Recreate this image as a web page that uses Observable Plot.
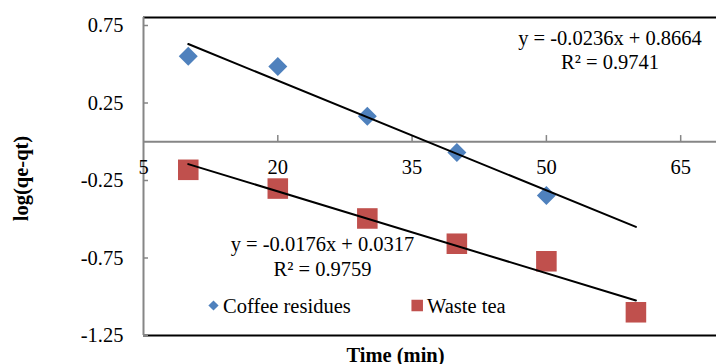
<!DOCTYPE html>
<html><head><meta charset="utf-8">
<script src="https://cdn.jsdelivr.net/npm/d3@7"></script>
<script src="https://cdn.jsdelivr.net/npm/@observablehq/plot@0.6"></script>
<style>body{margin:0;background:#fff} svg text{font-family:"Liberation Serif","Times New Roman",serif !important}</style>
</head><body><div id="chart"></div>
<script>
const times = [10, 20, 30, 40, 50, 60];
const coffeeValues = [0.552, 0.485, 0.165, -0.069, -0.347];
const wasteTeaValues = [-0.181, -0.302, -0.495, -0.658, -0.771, -1.100];
const seriesNames = ["Coffee residues", "Waste tea"];
const trendSlopes = [-0.0236, -0.0176];
const trendIntercepts = [0.8664, 0.0317];
const trendRange = [10, 60];
const equationLines = [["y = -0.0236x + 0.8664", "R² = 0.9741"], ["y = -0.0176x + 0.0317", "R² = 0.9759"]];
const xTicks = [5, 20, 35, 50, 65];
const yTicks = [0.75, 0.25, -0.25, -0.75, -1.25];
const xLabel = "Time (min)";
const yLabel = "log(qe-qt)";

const xDomain = [5, 69];
const yDomain = [-1.25, 0.8016];
const blue = "#4F81BD", red = "#C0504D", gray = "#868686";

const coffee = coffeeValues.map((v, i) => ({x: times[i], y: v}));
const waste = wasteTeaValues.map((v, i) => ({x: times[i], y: v}));
const trend = [];
seriesNames.forEach((s, k) => trendRange.forEach(x => trend.push({s, x, y: trendSlopes[k] * x + trendIntercepts[k]})));

const W = 716, H = 364, mL = 143, mR = 0, mT = 17, mB = 29;
const eqPos = [{dx: 609.5 - mL, dy: [44.5 - mT, 68.5 - mT]}, {dx: 322 - mL, dy: [250 - mT, 275 - mT]}];
const FONT = "Liberation Serif";
const textFont = {fontSize: 20.5, fill: "black", fontFamily: FONT};

const marks = [
  Plot.ruleY([yDomain[0], yDomain[1]], {stroke: "black", strokeWidth: 2}),
  Plot.ruleX([xDomain[0]], {stroke: gray, strokeWidth: 2}),
  Plot.ruleY([0], {stroke: gray, strokeWidth: 2}),
  Plot.tickY(yTicks, {y: d => d, stroke: gray, strokeWidth: 1.5, insetRight: W - mL - mR - 5}),
  Plot.ruleX(xTicks.slice(1), {x: d => d, y1: 0, y2: 0.04, stroke: gray, strokeWidth: 1.5}),
  Plot.text(yTicks, {y: d => d, frameAnchor: "left", dx: -20, textAnchor: "end", text: d => String(d), ...textFont}),
  Plot.text(xTicks, {x: d => d, y: 0, dy: 32, lineAnchor: "bottom", text: d => String(d), ...textFont}),
  Plot.dot(coffee, {x: "x", y: "y", symbol: "diamond2", r: 8.56, fill: blue, stroke: null}),
  Plot.dot(waste, {x: "x", y: "y", symbol: "square", r: 11.6, fill: red, stroke: null}),
  Plot.line(trend, {x: "x", y: "y", z: "s", stroke: "black", strokeWidth: 2}),
];
equationLines.forEach((lines, k) => lines.forEach((t, j) => {
  marks.push(Plot.text([t], {frameAnchor: "top-left", dx: eqPos[k].dx, dy: eqPos[k].dy[j], textAnchor: "middle", lineAnchor: "bottom", text: d => d, ...textFont}));
}));
// legend
marks.push(
  Plot.dot([seriesNames[0]], {frameAnchor: "top-left", dx: 213 - mL, dy: 305 - mT, symbol: "diamond2", r: 4.6, fill: blue, stroke: null}),
  Plot.text([seriesNames[0]], {frameAnchor: "top-left", dx: 222.5 - mL, dy: 312 - mT, textAnchor: "start", lineAnchor: "bottom", text: d => d, ...textFont}),
  Plot.dot([seriesNames[1]], {frameAnchor: "top-left", dx: 416.7 - mL, dy: 305 - mT, symbol: "square", r: 6.5, fill: red, stroke: null}),
  Plot.text([seriesNames[1]], {frameAnchor: "top-left", dx: 426.5 - mL, dy: 312 - mT, textAnchor: "start", lineAnchor: "bottom", text: d => d, ...textFont}),
  Plot.text([yLabel], {frameAnchor: "left", dx: 27.5 - mL, dy: 2, rotate: -90, textAnchor: "middle", lineAnchor: "bottom", fontWeight: "bold", text: d => d, ...textFont}),
  Plot.text([xLabel], {frameAnchor: "bottom", dx: 395 - (mL + W - mR) / 2, dy: 361.5 - (H - mB), textAnchor: "middle", lineAnchor: "bottom", fontWeight: "bold", text: d => d, ...textFont})
);

const chart = Plot.plot({
  width: W, height: H,
  marginLeft: mL, marginRight: mR, marginTop: mT, marginBottom: mB,
  x: {domain: xDomain, axis: null},
  y: {domain: yDomain, axis: null},
  style: {fontFamily: FONT, fontSize: "20.5px", background: "white", overflow: "visible"},
  marks
});
document.getElementById("chart").appendChild(chart);
</script>
</body></html>
